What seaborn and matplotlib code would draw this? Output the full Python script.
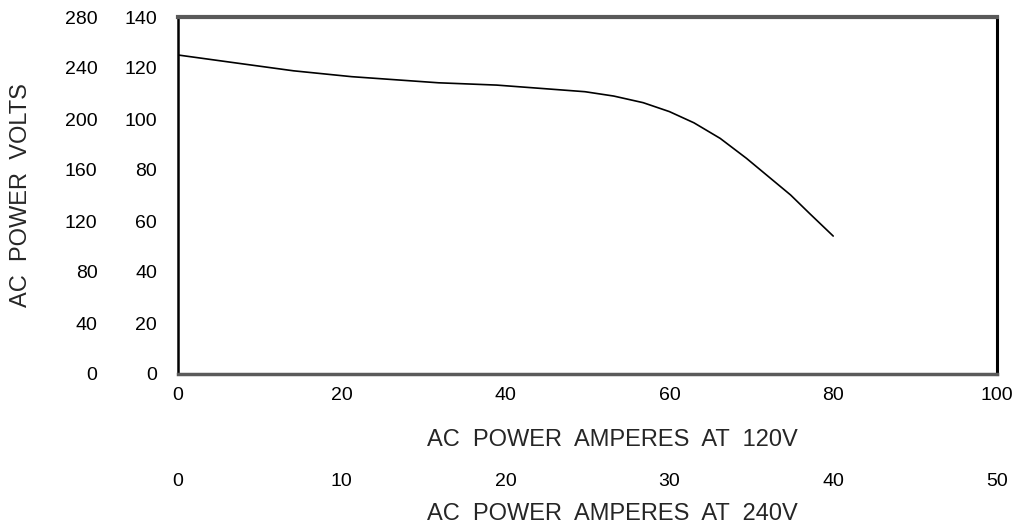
import matplotlib
matplotlib.use("Agg")
import matplotlib.pyplot as plt
import seaborn as sns
import pandas as pd

# Data: AC power amperes at 120V vs AC power volts (120V scale)
amps_120v = [0.0, 6.8, 14.1, 21.2, 31.8, 38.9, 46.8, 49.7, 53.2, 56.8, 60.0,
             63.0, 66.2, 69.4, 72.1, 74.8, 77.1, 80.0]
volts_120v = [125.1, 122.1, 118.9, 116.6, 114.2, 113.3, 111.4, 110.7, 109.0,
              106.4, 102.9, 98.5, 92.4, 84.6, 77.4, 70.2, 63.0, 54.1]

x_ticks_120 = [0, 20, 40, 60, 80, 100]
x_ticks_240 = [0, 10, 20, 30, 40, 50]
y_ticks_120 = [0, 20, 40, 60, 80, 100, 120, 140]
y_ticks_240 = [0, 40, 80, 120, 160, 200, 240, 280]
x_marks = [20, 40, 60, 80]
y_marks = [20, 40, 60, 80, 100, 120]

sns.set_style("white")
plt.rcParams['font.family'] = ['Liberation Sans', 'DejaVu Sans']

df = pd.DataFrame({"amps": amps_120v, "volts": volts_120v})

fig = plt.figure(figsize=(10.13, 5.27), dpi=100)
ax = fig.add_axes([178 / 1013, 1 - 374 / 527, (997 - 178) / 1013, (374 - 17) / 527])

sns.lineplot(data=df, x="amps", y="volts", ax=ax, color="black", linewidth=1.2, sort=False)

ax.set_xlim(0, 100)
ax.set_ylim(0, 140)

# major ticks: labels only; minor ticks: marks only
ax.set_xticks(x_ticks_120)
ax.set_yticks(y_ticks_120)
ax.set_xticks(x_marks, minor=True)
ax.set_yticks(y_marks, minor=True)
ax.tick_params(axis="both", which="major", length=0, labelsize=14, colors="black")
ax.tick_params(axis="x", which="major", pad=9)
ax.tick_params(axis="y", which="major", pad=15)
ax.tick_params(axis="both", which="minor", direction="in", length=6, width=1.6,
               color="black")

# spines
ax.spines["top"].set_color("#5a5a5a")
ax.spines["top"].set_linewidth(3.0)
ax.spines["bottom"].set_color("#5a5a5a")
ax.spines["bottom"].set_linewidth(2.5)
ax.spines["left"].set_color("black")
ax.spines["left"].set_linewidth(1.8)
ax.spines["right"].set_color("black")
ax.spines["right"].set_linewidth(2.2)

# secondary y axis (240V scale)
sec_y = ax.secondary_yaxis(-0.083, functions=(lambda v: v * 2, lambda v: v / 2))
sec_y.set_yticks(y_ticks_240)
sec_y.tick_params(length=0, labelsize=14, pad=9, colors="black")
sec_y.spines["left"].set_visible(False)

# secondary x axis (240V scale)
sec_x = ax.secondary_xaxis(-0.263, functions=(lambda a: a / 2, lambda a: a * 2))
sec_x.set_xticks(x_ticks_240)
sec_x.tick_params(length=0, labelsize=14, pad=4, colors="black")
sec_x.spines["bottom"].set_visible(False)

# labels
ax.set_xlabel("AC  POWER  AMPERES  AT  120V", fontsize=17)
ax.xaxis.set_label_coords(0.53, -0.155)
ax.set_ylabel("AC  POWER  VOLTS", fontsize=17)
ax.yaxis.set_label_coords(-0.178, 0.5)
ax.text(0.53, -0.408, "AC  POWER  AMPERES  AT  240V", transform=ax.transAxes,
        ha="center", va="baseline", fontsize=17)

fig.savefig("out.png", dpi=100)
